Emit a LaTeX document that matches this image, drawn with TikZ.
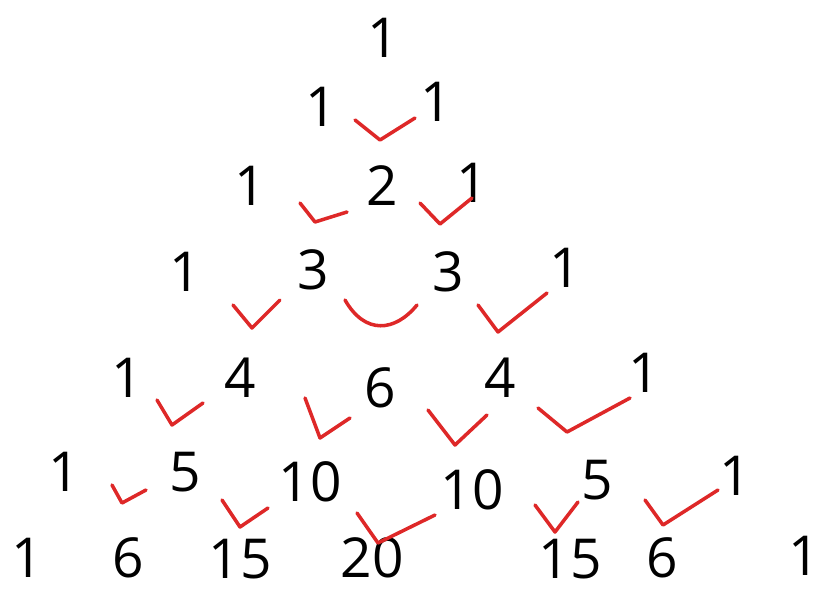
\documentclass[tikz,border=0pt]{standalone}
\usepackage{fontspec}
\setmainfont{Open Sans}
\usepackage{xcolor}
\usetikzlibrary{positioning}

\definecolor{tickred}{RGB}{222,40,40}

\begin{document}
\begin{tikzpicture}[
  x=0.03cm, y=-0.03cm,
  num/.style={inner sep=0pt, font=\fontsize{47}{52}\selectfont},
  chk/.style={draw=tickred, line width=3pt, line cap=round, line join=round}
]
  \useasboundingbox (0,0) rectangle (823,592);
  % row 0
  \node[num] (r0a) at (383,38) {1};
  % row 1
  \node[num] (r1a) at (321,107) {1};
  \node[num] (r1b) at (436,102) {1};
  % row 2
  \node[num] (r2a) at (250,186) {1};
  \node[num] (r2b) at (382,186) {2};
  \node[num] (r2c) at (472,183) {1};
  % row 3
  \node[num] (r3a) at (185,272) {1};
  \node[num] (r3b) at (313,270) {3};
  \node[num] (r3c) at (448,272) {3};
  \node[num] (r3d) at (565,268) {1};
  % row 4
  \node[num] (r4a) at (127,378) {1};
  \node[num] (r4b) at (240,378) {4};
  \node[num] (r4c) at (380,388) {6};
  \node[num] (r4d) at (500,378) {4};
  \node[num] (r4e) at (644,373) {1};
  % row 5
  \node[num] (r5a) at (64,472) {1};
  \node[num] (r5b) at (185,472) {5};
  \node[num] (r5c) at (310,482) {10};
  \node[num] (r5d) at (472,490) {10};
  \node[num] (r5e) at (597,480) {5};
  \node[num] (r5f) at (735,476) {1};
  % row 6
  \node[num] (r6a) at (27,558) {1};
  \node[num] (r6b) at (128,558) {6};
  \node[num] (r6c) at (240,559) {15};
  \node[num] (r6d) at (372,558) {20};
  \node[num] (r6e) at (570,559) {15};
  \node[num] (r6f) at (662,558) {6};
  \node[num] (r6g) at (804,556) {1};

  % red ticks
  \draw[chk] (355,120) -- (380,140) -- (415,118);
  \draw[chk] (300,203) -- (315,222) -- (347,212);
  \draw[chk] (420,203) -- (440,224) -- (472,198);
  \draw[chk] (233,305) -- (252,328) -- (280,300);
  \draw[chk] (345,300) .. controls (365,335) and (395,332) .. (417,305);
  \draw[chk] (478,305) -- (498,332) -- (547,293);
  \draw[chk] (157,400) -- (172,425) -- (203,403);
  \draw[chk] (305,398) -- (320,438) -- (350,418);
  \draw[chk] (428,410) -- (455,445) -- (487,415);
  \draw[chk] (538,408) -- (567,432) -- (630,398);
  \draw[chk] (112,485) -- (122,503) -- (146,490);
  \draw[chk] (222,500) -- (240,527) -- (268,508);
  \draw[chk] (357,513) -- (378,543) -- (435,515);
  \draw[chk] (535,505) -- (555,532) -- (578,502);
  \draw[chk] (645,500) -- (663,525) -- (718,490);
\end{tikzpicture}
\end{document}
